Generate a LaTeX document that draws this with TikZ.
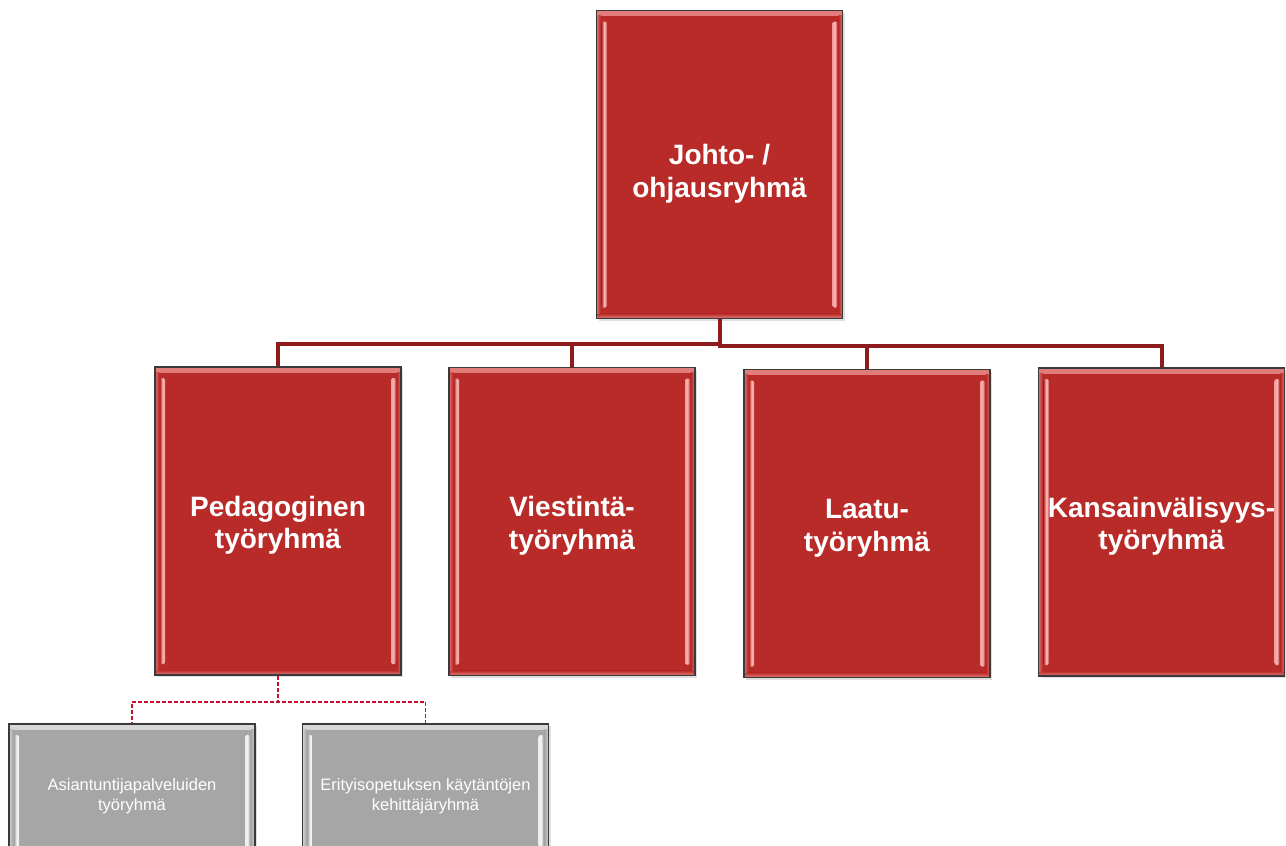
\documentclass[tikz,border=0pt]{standalone}
\usepackage{fontspec}
\setmainfont{Liberation Sans}
\usetikzlibrary{shadows,calc}
\definecolor{boxred}{HTML}{B92B29}
\definecolor{redlight}{HTML}{F2A09E}
\definecolor{connred}{HTML}{8E1C1C}
\definecolor{dashred}{HTML}{C8102E}
\definecolor{boxgray}{HTML}{A6A6A6}
\definecolor{graylight}{HTML}{EEEEEE}
\definecolor{edgecol}{HTML}{3A3A3A}
\tikzset{
  bevel/.style 2 args={path picture={
    \shade[top color=#2!70!#1, bottom color=#1] (path picture bounding box.north west) rectangle ($(path picture bounding box.north east)+(0,-5pt)$);
    \shade[top color=#1, bottom color=#2!70!#1] ($(path picture bounding box.south west)+(0,5pt)$) rectangle (path picture bounding box.south east);
    \shade[left color=#2!60!#1, right color=#1] ($(path picture bounding box.north west)+(0pt,-5pt)$) rectangle ($(path picture bounding box.south west)+(4pt,5pt)$);
    \shade[right color=#2!60!#1, left color=#1] ($(path picture bounding box.north east)+(-4pt,-5pt)$) rectangle ($(path picture bounding box.south east)+(0pt,5pt)$);
    \shade[left color=#1, right color=#2, middle color=#2!80!white, rounded corners=1.5pt] ($(path picture bounding box.north west)+(5pt,-11pt)$) rectangle ($(path picture bounding box.south west)+(10pt,11pt)$);
    \shade[left color=#2, right color=#1, middle color=#2!80!white, rounded corners=1.5pt] ($(path picture bounding box.north east)+(-10pt,-11pt)$) rectangle ($(path picture bounding box.south east)+(-5pt,11pt)$);
  }},
  basebox/.style={draw=edgecol, line width=1.5pt, inner sep=0pt, text=white, align=center,
    drop shadow={shadow xshift=2pt, shadow yshift=-2pt, opacity=0.25}},
  redbox/.style={basebox, fill=boxred, minimum width=246pt, minimum height=308pt,
    font=\bfseries\fontsize{28}{32.5}\selectfont, bevel={boxred}{redlight}},
  graybox/.style={basebox, fill=boxgray, minimum width=246pt, minimum height=144pt,
    font=\fontsize{16.5}{20.5}\selectfont, bevel={boxgray}{graylight}},
  conn/.style={draw=connred, line width=4pt},
  dconn/.style={draw=dashred, line width=1.5pt, dash pattern=on 4pt off 2pt}
}
\newcommand\topstrut[1]{\rule{0pt}{#1}}
\begin{document}
\begin{tikzpicture}[x=1pt,y=-1pt]
\useasboundingbox (0,0) rectangle (1286,846);
\clip (0,0) rectangle (1286,846);
\node[redbox] (top) at (719.5,164.5) {\topstrut{39pt}Johto- /\\ohjausryhmä};
\node[redbox] (b1) at (278,521) {\topstrut{29pt}Pedagoginen\\työryhmä};
\node[redbox] (b2) at (572,521.5) {\topstrut{29pt}Viestintä-\\työryhmä};
\node[redbox] (b3) at (867,523.5) {\topstrut{29pt}Laatu-\\työryhmä};
\node[redbox] (b4) at (1161.5,522) {\topstrut{29pt}Kansainvälisyys-\\työryhmä};
\node[graybox] (g1) at (132,796) {Asiantuntijapalveluiden\\työryhmä};
\node[graybox] (g2) at (425.5,796) {Erityisopetuksen käytäntöjen\\kehittäjäryhmä};
\draw[conn] (top.south) -- ++(0,25) -| (b1.north);
\draw[conn] (top.south) -- ++(0,25) -| (b2.north);
\draw[conn] (top.south) -- ++(0,27) -| (b3.north);
\draw[conn] (top.south) -- ++(0,27) -| (b4.north);
\draw[dconn] (b1.south) -- ++(0,26) -| (g1.north);
\draw[dconn] (b1.south) -- ++(0,26) -| (g2.north);
\end{tikzpicture}
\end{document}
